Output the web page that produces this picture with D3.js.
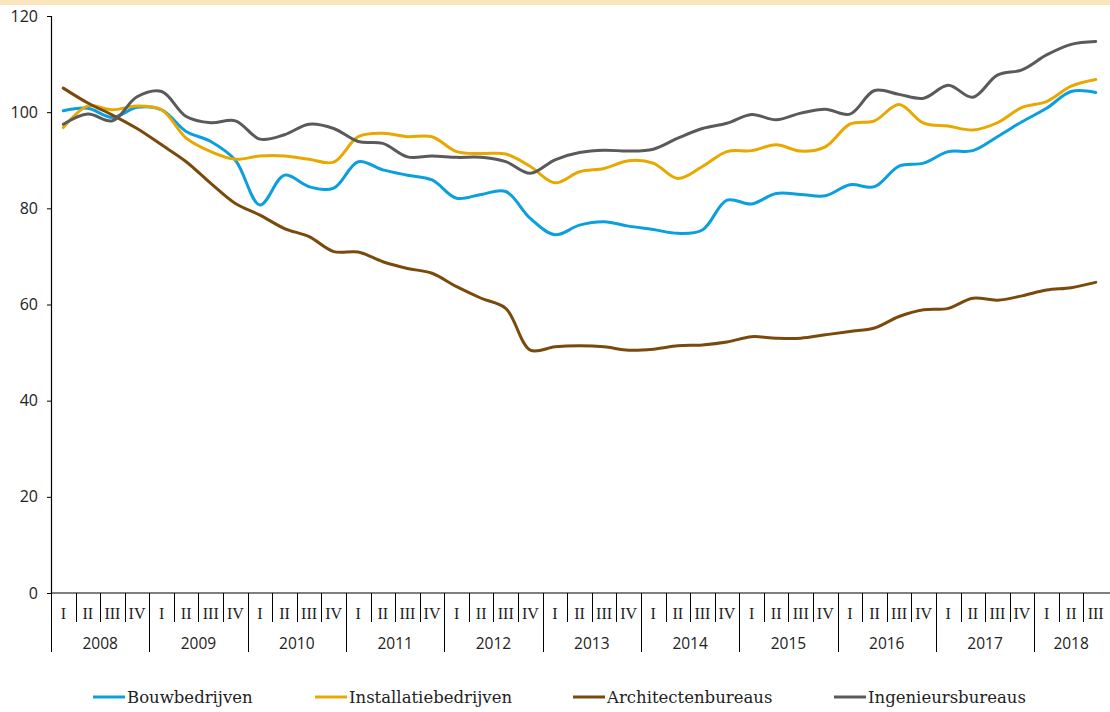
<!DOCTYPE html>
<html>
<head>
<meta charset="utf-8">
<script src="https://cdn.jsdelivr.net/npm/d3@7"></script>
<style>
  body { margin: 0; background: #fff; }
  svg { display: block; }
  .y.axis text { font-family: "Open Sans", sans-serif; font-size: 16px; fill: #222; }
  .qlabel { font-family: "Liberation Serif", serif; font-size: 16px; fill: #222; }
  .ylabel { font-family: "Open Sans", sans-serif; font-size: 15.5px; fill: #222; }
  .legend text { font-family: "DejaVu Serif", serif; font-size: 16.5px; fill: #222; }
</style>
</head>
<body>
<script>
// quarterly index figures, 2008 I - 2018 III
var years = [2008, 2009, 2010, 2011, 2012, 2013, 2014, 2015, 2016, 2017, 2018];
var quarterNames = ["I", "II", "III", "IV"];
var yTicks = [0, 20, 40, 60, 80, 100, 120];

var bouw = [100.3,100.8,98.9,101,100.5,96,93.9,90,80.7,86.9,84.5,84.2,89.7,88,86.9,85.9,82.1,82.9,83.5,77.9,74.5,76.5,77.2,76.3,75.6,74.8,75.5,81.7,80.9,83.1,82.9,82.6,84.9,84.5,88.8,89.4,91.8,92,94.9,98,100.8,104.3,104.1];
var inst = [96.8,101.3,100.5,101.3,100.5,94.6,91.8,90.2,90.9,90.9,90.2,89.6,94.9,95.6,94.9,94.9,91.8,91.4,91.3,88.7,85.3,87.6,88.3,89.9,89.4,86.2,88.7,91.8,92,93.2,91.9,92.8,97.5,98.2,101.6,97.7,97.1,96.3,97.8,101,102.2,105.4,106.8];
var arch = [105,101.9,99.4,96.6,93.2,89.7,85.2,81,78.6,75.8,74.1,71,70.9,68.9,67.5,66.5,63.7,61.3,59.2,50.5,51.2,51.4,51.2,50.5,50.7,51.4,51.6,52.2,53.3,53,53,53.7,54.4,55.1,57.5,58.9,59.2,61.3,60.9,61.8,63,63.5,64.6];
var ing = [97.5,99.6,98.2,103.2,104.3,99.1,97.8,98.2,94.4,95.3,97.5,96.6,93.9,93.5,90.7,90.9,90.6,90.6,89.7,87.3,90.1,91.6,92.1,91.9,92.3,94.6,96.6,97.7,99.5,98.4,99.8,100.6,99.6,104.5,103.7,102.9,105.6,103.1,107.7,108.8,111.9,114.1,114.7];

var seriesNames = ["Bouwbedrijven", "Installatiebedrijven", "Architectenbureaus", "Ingenieursbureaus"];
var seriesColors = ["#0a9fdf", "#e9a800", "#7a4a0c", "#5a5a5a"];
var seriesData = [bouw, inst, arch, ing];

// build the list of quarters
var quarters = [];
years.forEach(function(y) {
  quarterNames.forEach(function(q) {
    quarters.push({ year: y, q: q, key: y + q });
  });
});
quarters = quarters.slice(0, bouw.length);

var width = 1110, height = 712;
var margin = { left: 51, right: 2, top: 16, bottom: 119 };

var svg = d3.select("body").append("svg")
  .attr("width", width)
  .attr("height", height);

// light band across the top
svg.append("rect")
  .attr("x", 0).attr("y", 0)
  .attr("width", width).attr("height", 5)
  .attr("fill", "#fbe5bd");

var x = d3.scaleBand()
  .domain(quarters.map(function(d) { return d.key; }))
  .range([margin.left, width - margin.right])
  .paddingInner(0).paddingOuter(0);

var y = d3.scaleLinear()
  .domain([0, 120])
  .range([height - margin.bottom, margin.top]);

var y0 = y(0);

// y axis
var yAxis = d3.axisLeft(y).tickValues(yTicks).tickSize(4).tickPadding(9);
var yG = svg.append("g")
  .attr("class", "y axis")
  .attr("transform", "translate(" + margin.left + ",0)")
  .call(yAxis);
yG.select(".domain").attr("stroke", "#000").attr("stroke-width", 1.2);
yG.selectAll(".tick line").attr("stroke", "#000");

// x axis: baseline + quarter/year dividers
var xG = svg.append("g").attr("class", "x axis");
xG.append("line")
  .attr("x1", margin.left).attr("x2", width)
  .attr("y1", y0).attr("y2", y0)
  .attr("stroke", "#000").attr("stroke-width", 1.2);

xG.selectAll("line.div")
  .data(quarters)
  .enter().append("line")
  .attr("class", "div")
  .attr("x1", function(d) { return Math.round(x(d.key)) + 0.5; })
  .attr("x2", function(d) { return Math.round(x(d.key)) + 0.5; })
  .attr("y1", y0)
  .attr("y2", function(d) { return d.q == "I" ? y0 + 59 : y0 + 29; })
  .attr("stroke", "#000")
  .attr("stroke-width", 1);

xG.selectAll("text.qlabel")
  .data(quarters)
  .enter().append("text")
  .attr("class", "qlabel")
  .attr("x", function(d) { return x(d.key) + x.bandwidth() / 2; })
  .attr("y", y0 + 26)
  .attr("text-anchor", "middle")
  .text(function(d) { return d.q; });

xG.selectAll("text.ylabel")
  .data(years)
  .enter().append("text")
  .attr("class", "ylabel")
  .attr("x", function(yr) {
    var qs = quarters.filter(function(d) { return d.year == yr; });
    var a = x(qs[0].key), b = x(qs[qs.length - 1].key) + x.bandwidth();
    return (a + b) / 2;
  })
  .attr("y", y0 + 56)
  .attr("text-anchor", "middle")
  .text(function(yr) { return yr; });

// lines
var line = d3.line()
  .x(function(d, i) { return x(quarters[i].key) + x.bandwidth() / 2; })
  .y(function(d) { return y(d); })
  .curve(d3.curveCatmullRom.alpha(0.5));

seriesData.forEach(function(s, i) {
  svg.append("path")
    .attr("d", line(s))
    .attr("fill", "none")
    .attr("stroke", seriesColors[i])
    .attr("stroke-width", 3)
    .attr("stroke-linejoin", "round")
    .attr("stroke-linecap", "round");
});

// legend
var legendX = [93, 315, 573, 834];
var legend = svg.append("g").attr("class", "legend");
seriesNames.forEach(function(name, i) {
  legend.append("line")
    .attr("x1", legendX[i]).attr("x2", legendX[i] + 32)
    .attr("y1", 697).attr("y2", 697)
    .attr("stroke", seriesColors[i])
    .attr("stroke-width", 3);
  legend.append("text")
    .attr("x", legendX[i] + 34)
    .attr("y", 697)
    .attr("dy", "0.35em")
    .text(name);
});
</script>
</body>
</html>
